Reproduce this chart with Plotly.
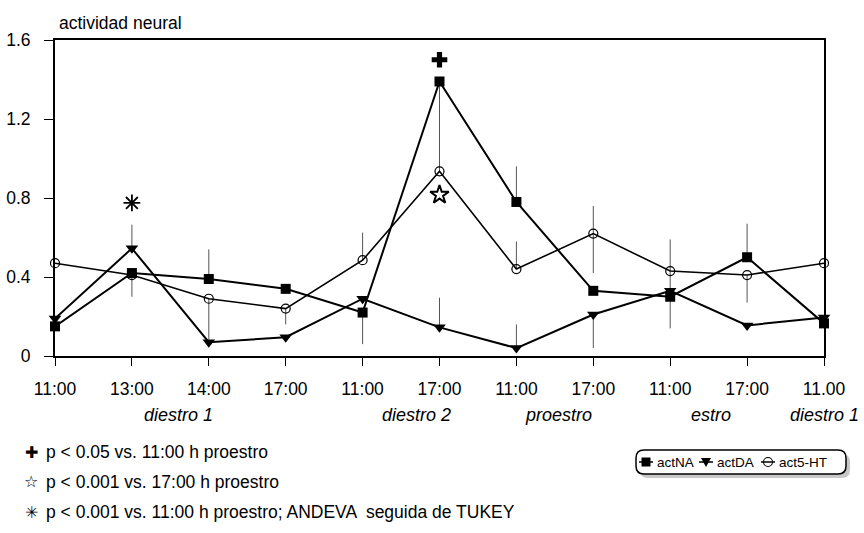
import plotly.graph_objects as go

# ---- data ----
x_pos = list(range(11))
tick_labels = ["11:00", "13:00", "14:00", "17:00", "11:00", "17:00",
               "11:00", "17:00", "11:00", "17:00", "11.00"]

series_names = ["actNA", "actDA", "act5-HT"]

act_na = [0.15, 0.42, 0.39, 0.34, 0.22, 1.39, 0.78, 0.33, 0.30, 0.50, 0.165]
act_na_up = [0, 0, 0.15, 0, 0, 0, 0.18, 0, 0.29, 0.17, 0]
act_na_dn = [0, 0.12, 0, 0, 0.16, 0.43, 0, 0, 0.16, 0, 0]

act_da = [0.19, 0.545, 0.07, 0.095, 0.29, 0.145, 0.04, 0.21, 0.33, 0.155, 0.195]
act_da_up = [0, 0.12, 0, 0, 0, 0.15, 0.12, 0, 0, 0, 0]
act_da_dn = [0, 0, 0, 0, 0, 0, 0, 0.17, 0, 0, 0]

act_5ht = [0.47, 0.41, 0.29, 0.24, 0.485, 0.935, 0.44, 0.62, 0.43, 0.41, 0.47]
act_5ht_up = [0, 0, 0, 0, 0.14, 0.12, 0.14, 0.14, 0, 0, 0]
act_5ht_dn = [0, 0, 0.21, 0.08, 0, 0, 0, 0.2, 0, 0.14, 0]

# significance marks
sig_cross_x, sig_cross_y = [5], [1.50]
sig_star_x, sig_star_y = [5], [0.816]
sig_ast_x, sig_ast_y = [1], [0.775]

phase_labels = ["diestro 1", "diestro 2", "proestro", "estro", "diestro 1"]
phase_x = [1.6, 4.7, 6.55, 8.53, 10.05]

note_symbols = ["✚", "☆", "✳"]
notes = ["p < 0.05 vs. 11:00 h proestro",
         "p < 0.001 vs. 17:00 h proestro",
         "p < 0.001 vs. 11:00 h proestro; ANDEVA  seguida de TUKEY"]

y_ticks = [0, 0.4, 0.8, 1.2, 1.6]
y_ticktext = ["0", "0.4", "0.8", "1.2", "1.6"]

FONT = "Liberation Sans, Arial, sans-serif"

fig = go.Figure()

def err(up, dn):
    return dict(type="data", symmetric=False, array=up, arrayminus=dn,
                color="#555", thickness=1, width=0)

fig.add_trace(go.Scatter(
    x=x_pos, y=act_na, name=series_names[0], mode="lines+markers",
    line=dict(color="black", width=2),
    marker=dict(symbol="square", size=10, color="black"),
    error_y=err(act_na_up, act_na_dn), cliponaxis=False))
fig.add_trace(go.Scatter(
    x=x_pos, y=act_da, name=series_names[1], mode="lines+markers",
    line=dict(color="black", width=2),
    marker=dict(symbol="triangle-down", size=11, color="black"),
    error_y=err(act_da_up, act_da_dn), cliponaxis=False))
fig.add_trace(go.Scatter(
    x=x_pos, y=act_5ht, name=series_names[2], mode="lines+markers",
    line=dict(color="black", width=1.6),
    marker=dict(symbol="circle-open", size=9, color="black", line=dict(width=1.2)),
    error_y=err(act_5ht_up, act_5ht_dn), cliponaxis=False))

fig.add_trace(go.Scatter(x=sig_cross_x, y=sig_cross_y, mode="markers", showlegend=False,
                         marker=dict(symbol="cross", size=13, color="black")))
fig.add_trace(go.Scatter(x=sig_star_x, y=sig_star_y, mode="markers", showlegend=False,
                         marker=dict(symbol="star-open", size=14, color="black",
                                     line=dict(width=2))))
fig.add_trace(go.Scatter(x=sig_ast_x, y=sig_ast_y, mode="markers", showlegend=False,
                         marker=dict(symbol="asterisk-open", size=14, color="black",
                                     line=dict(width=1.8, color="black"))))

L, R, T, B = 55, 40, 40, 177
W, H = 864, 533
pw, ph = W - L - R, H - T - B

def px(xp):
    return (xp - L) / pw

def py(yp):
    return (H - B - yp) / ph

annotations = []
annotations.append(dict(text="actividad neural", xref="paper", yref="paper",
                        x=px(57), y=py(23), xanchor="left", yanchor="middle",
                        showarrow=False, font=dict(family=FONT, size=17.5, color="black")))
for k, (lab, xv) in enumerate(zip(phase_labels, phase_x)):
    last = k == len(phase_labels) - 1
    annotations.append(dict(text="<i>" + lab + "</i>", xref="paper", yref="paper",
                            x=px(861) if last else xv / 10.0, y=py(415),
                            xanchor="right" if last else "center", yanchor="middle",
                            showarrow=False,
                            font=dict(family=FONT, size=18, color="black")))
for i, (s, n) in enumerate(zip(note_symbols, notes)):
    annotations.append(dict(text=s, xref="paper", yref="paper",
                            x=px(31), y=py(452 + 30 * i), xanchor="center", yanchor="middle",
                            showarrow=False,
                            font=dict(family="DejaVu Sans, sans-serif", size=16, color="black")))
    annotations.append(dict(text=n, xref="paper", yref="paper",
                            x=px(44), y=py(452 + 30 * i), xanchor="left", yanchor="middle",
                            showarrow=False,
                            font=dict(family=FONT, size=17.5, color="black")))

# legend frame (rounded, with shadow)
def rounded(x0, y0, x1, y1, r):
    rx, ry = r / pw, r / ph
    X0, X1 = px(x0), px(x1)
    Y0, Y1 = py(y0), py(y1)  # Y0 top, Y1 bottom
    return (f"M {X0+rx},{Y0} L {X1-rx},{Y0} Q {X1},{Y0} {X1},{Y0-ry} "
            f"L {X1},{Y1+ry} Q {X1},{Y1} {X1-rx},{Y1} L {X0+rx},{Y1} "
            f"Q {X0},{Y1} {X0},{Y1+ry} L {X0},{Y0-ry} Q {X0},{Y0} {X0+rx},{Y0} Z")

shapes = [
    dict(type="path", xref="paper", yref="paper", path=rounded(640, 454, 850, 478, 8),
         fillcolor="#c8c8c8", line=dict(width=0), layer="below"),
    dict(type="path", xref="paper", yref="paper", path=rounded(636, 450, 846, 474, 8),
         fillcolor="white", line=dict(color="black", width=1.5), layer="below"),
]

# legend keys (drawn as decoration in pixel layout)
ly = 462
key_cx = [646, 706, 768]
text_x = [655, 715, 777]
for k, (cx, tx, nm) in enumerate(zip(key_cx, text_x, series_names)):
    shapes.append(dict(type="line", xref="paper", yref="paper",
                       x0=px(cx - 7), x1=px(cx + 7), y0=py(ly), y1=py(ly),
                       line=dict(color="black", width=1.5)))
    if k == 0:
        shapes.append(dict(type="rect", xref="paper", yref="paper",
                           x0=px(cx - 4.5), x1=px(cx + 4.5), y0=py(ly - 4.5), y1=py(ly + 4.5),
                           fillcolor="black", line=dict(width=0)))
    elif k == 1:
        shapes.append(dict(type="path", xref="paper", yref="paper",
                           path=f"M {px(cx-5)},{py(ly-4)} L {px(cx+5)},{py(ly-4)} "
                                f"L {px(cx)},{py(ly+5)} Z",
                           fillcolor="black", line=dict(width=0)))
    else:
        shapes.append(dict(type="circle", xref="paper", yref="paper",
                           x0=px(cx - 4.5), x1=px(cx + 4.5), y0=py(ly - 4.5), y1=py(ly + 4.5),
                           fillcolor="rgba(0,0,0,0)", line=dict(color="black", width=1.1)))
    annotations.append(dict(text=nm, xref="paper", yref="paper", x=px(tx), y=py(ly),
                            xanchor="left", yanchor="middle", showarrow=False,
                            font=dict(family=FONT, size=13.5, color="black")))

fig.update_layout(
    width=W, height=H,
    margin=dict(l=L, r=R, t=T, b=B, autoexpand=False),
    paper_bgcolor="white", plot_bgcolor="white",
    font=dict(family=FONT, size=17, color="black"),
    showlegend=False,
    annotations=annotations,
    shapes=shapes,
    xaxis=dict(range=[0, 10], tickvals=x_pos, ticktext=tick_labels,
               showgrid=False, zeroline=False, showline=True, linecolor="black",
               linewidth=1.5, mirror=True, ticks="outside", ticklen=8,
               tickcolor="black", tickfont=dict(family=FONT, size=17.5),
               ticklabelstandoff=8),
    yaxis=dict(range=[0, 1.6], tickvals=y_ticks, ticktext=y_ticktext,
               showgrid=False, zeroline=False, showline=True, linecolor="black",
               linewidth=2, mirror=True, ticks="outside", ticklen=9,
               tickcolor="black", tickfont=dict(family=FONT, size=17.5),
               ticklabelstandoff=10),
)

fig.write_html("out.html", config={"displayModeBar": False},
               post_script="document.body.style.margin='0px';document.body.style.overflow='hidden';")
